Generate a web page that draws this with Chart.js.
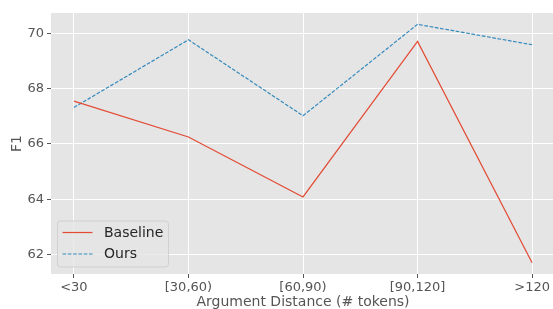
<!DOCTYPE html>
<html lang="en">
<head>
    <meta charset="UTF-8">
    <title>F1 by Argument Distance</title>
    <script src="https://cdn.jsdelivr.net/npm/chart.js"></script>
    <style>
        html, body { margin: 0; padding: 0; background: #fff; overflow: hidden; }
        .chart-container { position: relative; width: 556px; height: 309px; }
    </style>
</head>
<body>
    <div class="chart-container">
        <canvas id="f1Chart" width="556" height="309"></canvas>
    </div>
    <script>
        // data
        const categories = ['<30', '[30,60)', '[60,90)', '[90,120]', '>120'];
        const baseline = [67.55, 66.25, 64.08, 69.71, 61.70];
        const ours = [67.32, 69.77, 67.02, 70.33, 69.59];
        const yTicks = [62, 64, 66, 68, 70];

        const toPoints = vals => vals.map((v, i) => ({ x: i, y: v }));

        // gray panel behind the plot (ggplot look)
        const panelBg = {
            id: 'panelBg',
            beforeDraw(chart) {
                const { ctx, chartArea: a } = chart;
                ctx.save();
                ctx.fillStyle = '#E5E5E5';
                ctx.fillRect(a.left, a.top, a.right - a.left, a.bottom - a.top);
                ctx.restore();
            }
        };

        // matplotlib-like legend box in the lower left corner
        const boxLegend = {
            id: 'boxLegend',
            afterDatasetsDraw(chart) {
                const { ctx, chartArea: a } = chart;
                const x = a.left + 6.5, w = 111, h = 46;
                const y = a.bottom - 7 - h;
                ctx.save();
                ctx.beginPath();
                ctx.roundRect(x, y, w, h, 3);
                ctx.fillStyle = 'rgba(229,229,229,0.8)';
                ctx.fill();
                ctx.strokeStyle = 'rgba(204,204,204,0.8)';
                ctx.lineWidth = 1;
                ctx.stroke();
                ctx.font = '14px "DejaVu Sans"';
                ctx.textBaseline = 'middle';
                chart.data.datasets.forEach((ds, i) => {
                    const ly = y + 11.5 + i * 21.5;
                    ctx.beginPath();
                    ctx.setLineDash(ds.borderDash || []);
                    ctx.strokeStyle = ds.borderColor;
                    ctx.lineWidth = ds.borderWidth;
                    ctx.moveTo(x + 5, ly);
                    ctx.lineTo(x + 35, ly);
                    ctx.stroke();
                    ctx.setLineDash([]);
                    ctx.fillStyle = '#262626';
                    ctx.fillText(ds.label, x + 46.5, ly + 0.5);
                });
                ctx.restore();
            }
        };

        const ctx = document.getElementById('f1Chart').getContext('2d');
        const f1Chart = new Chart(ctx, {
            type: 'line',
            data: {
                datasets: [{
                    label: 'Baseline',
                    data: toPoints(baseline),
                    borderColor: '#E24A33',
                    borderWidth: 1.2,
                    pointRadius: 0,
                    fill: false,
                    tension: 0
                }, {
                    label: 'Ours',
                    data: toPoints(ours),
                    borderColor: '#348ABD',
                    borderWidth: 1.2,
                    borderDash: [3.7, 1.6],
                    pointRadius: 0,
                    fill: false,
                    tension: 0
                }]
            },
            options: {
                responsive: false,
                devicePixelRatio: 1,
                animation: false,
                layout: { padding: { top: 13, right: 1, left: 0, bottom: 0 } },
                plugins: { legend: { display: false }, tooltip: { enabled: false } },
                scales: {
                    x: {
                        type: 'linear',
                        min: -0.2,
                        max: 4.2,
                        afterBuildTicks: s => { s.ticks = categories.map((c, i) => ({ value: i })); },
                        afterFit: s => { s.height = 35; },
                        ticks: {
                            callback: v => categories[v],
                            color: '#555555',
                            font: { family: 'DejaVu Sans', size: 13 },
                            padding: 2,
                            maxRotation: 0,
                            autoSkip: false
                        },
                        grid: { color: '#FFFFFF', lineWidth: 1, tickColor: '#555555', tickLength: 4 },
                        border: { display: false },
                        title: {
                            display: true,
                            text: 'Argument Distance (# tokens)',
                            color: '#555555',
                            font: { family: 'DejaVu Sans', size: 14 },
                            padding: { top: 0, bottom: -1.5 }
                        }
                    },
                    y: {
                        min: 61.29,
                        max: 70.74,
                        afterBuildTicks: s => { s.ticks = yTicks.map(v => ({ value: v })); },
                        afterFit: s => { s.width = 51; },
                        ticks: {
                            color: '#555555',
                            font: { family: 'DejaVu Sans', size: 13 },
                            padding: 3
                        },
                        grid: { color: '#FFFFFF', lineWidth: 1, tickColor: '#555555', tickLength: 4 },
                        border: { display: false },
                        title: {
                            display: true,
                            text: 'F1',
                            color: '#555555',
                            font: { family: 'DejaVu Sans', size: 14 },
                            padding: { top: 9, bottom: 0 }
                        }
                    }
                }
            },
            plugins: [panelBg, boxLegend]
        });
    </script>
</body>
</html>
